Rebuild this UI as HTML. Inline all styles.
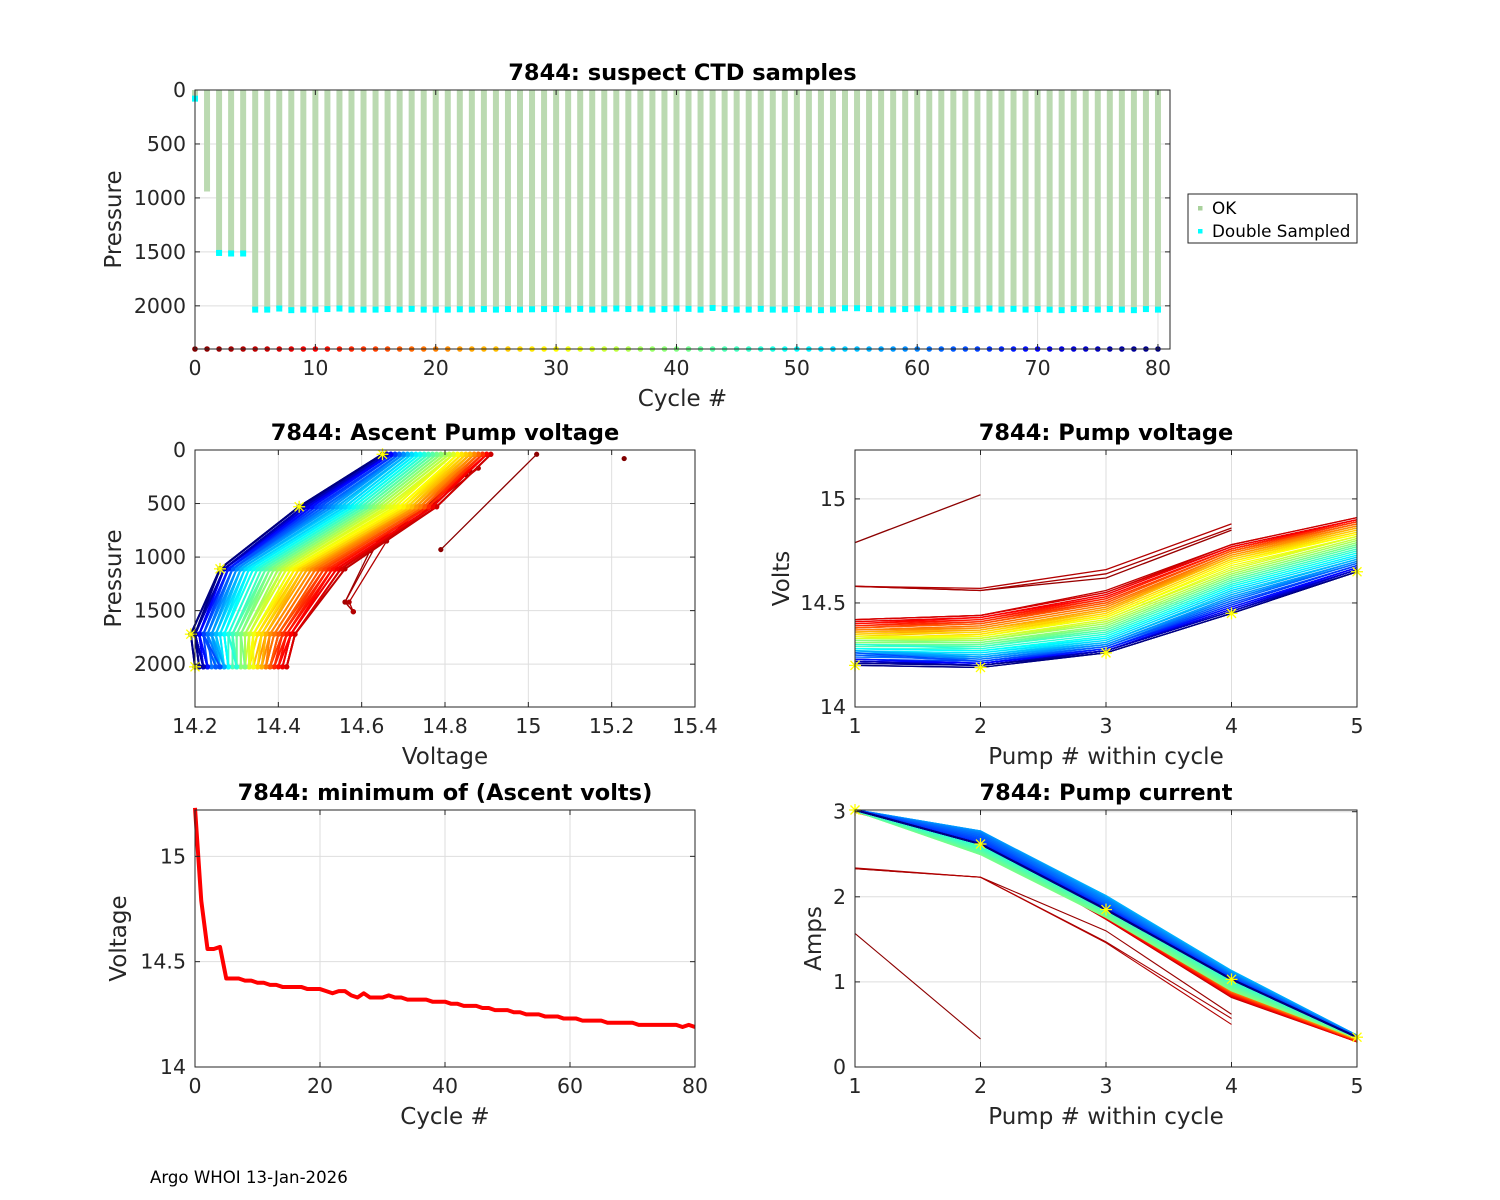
<!DOCTYPE html>
<html><head><meta charset="utf-8">
<style>
html,body{margin:0;padding:0;background:#fff;}
svg{display:block;font-family:"DejaVu Sans","Liberation Sans",sans-serif;}
</style></head>
<body>
<svg id="fig" width="1500" height="1200" viewBox="0 0 1500 1200" xmlns="http://www.w3.org/2000/svg">
<rect width="1500" height="1200" fill="#fff"/>
<text x="150" y="1183" font-size="16.6" fill="#000">Argo WHOI 13-Jan-2026</text>
</svg>
<script>
// ---------- DATA ----------
const barBottom = [90,940,1510,1510,1510,2025,2025,2020,2030,2025,2028,2022,2015,2030,2025,2028,2025,2020,2022,2028,2025,2020,2018,2028,2030,2025,2020,2025,2030,2025,2022,2025,2020,2025,2022,2018,2025,2020,2028,2022,2015,2018,2028,2015,2022,2025,2028,2020,2025,2028,2022,2025,2030,2028,2015,2015,2020,2025,2028,2022,2018,2025,2028,2020,2030,2025,2018,2028,2020,2025,2022,2028,2030,2020,2022,2028,2022,2025,2030,2020,2025];
const doubleP = [80,null,1510,1515,1515,2035,2035,2025,2040,2035,2035,2030,2025,2035,2035,2035,2030,2035,2028,2035,2035,2035,2032,2035,2030,2035,2030,2035,2032,2030,2030,2035,2028,2035,2032,2025,2030,2025,2035,2030,2025,2028,2035,2020,2030,2035,2035,2028,2035,2035,2030,2035,2040,2035,2022,2022,2030,2035,2035,2030,2025,2035,2035,2030,2038,2035,2025,2035,2028,2035,2030,2035,2040,2030,2030,2035,2030,2035,2040,2030,2035];
const earlyVolts = [[15.23],[14.79,15.02],[14.58,14.56,14.62,14.85],[14.58,14.56,14.64,14.86],[14.58,14.57,14.66,14.88]];
const earlyPres  = [[80],[930,40],[1510,1420,940,230],[1510,1420,850,200],[1510,1420,850,170]];
const earlyAmps  = [[],[1.57,0.33],[2.33,2.23,1.60,0.62],[2.33,2.23,1.47,0.57],[2.34,2.23,1.46,0.50]];
const V1 = [14.42,14.42,14.42,14.41,14.41,14.40,14.40,14.39,14.39,14.38,14.38,14.38,14.38,14.37,14.37,14.37,14.36,14.35,14.36,14.36,14.34,14.33,14.35,14.33,14.33,14.33,14.34,14.33,14.33,14.32,14.32,14.32,14.32,14.31,14.31,14.32,14.30,14.30,14.30,14.29,14.30,14.28,14.30,14.28,14.28,14.28,14.27,14.27,14.26,14.26,14.27,14.25,14.27,14.26,14.26,14.26,14.24,14.25,14.25,14.26,14.23,14.23,14.23,14.23,14.23,14.22,14.22,14.22,14.21,14.22,14.22,14.22,14.21,14.20,14.21,14.20];
const V2 = [14.44,14.44,14.44,14.43,14.43,14.43,14.42,14.42,14.41,14.41,14.40,14.40,14.40,14.39,14.39,14.38,14.38,14.37,14.37,14.37,14.36,14.35,14.36,14.35,14.34,14.34,14.34,14.33,14.33,14.33,14.32,14.32,14.32,14.31,14.31,14.31,14.30,14.30,14.29,14.29,14.29,14.28,14.28,14.27,14.27,14.27,14.26,14.26,14.25,14.25,14.25,14.24,14.24,14.24,14.23,14.23,14.23,14.22,14.22,14.22,14.22,14.21,14.21,14.21,14.21,14.21,14.20,14.20,14.20,14.20,14.20,14.20,14.20,14.19,14.20,14.19];
const V3 = [14.56,14.55,14.55,14.54,14.54,14.53,14.53,14.52,14.52,14.51,14.51,14.50,14.50,14.49,14.49,14.48,14.48,14.47,14.47,14.46,14.46,14.45,14.45,14.44,14.44,14.43,14.43,14.42,14.42,14.41,14.41,14.40,14.40,14.39,14.39,14.38,14.38,14.37,14.37,14.36,14.36,14.35,14.35,14.34,14.34,14.33,14.33,14.32,14.32,14.31,14.31,14.31,14.30,14.30,14.30,14.29,14.29,14.29,14.29,14.28,14.28,14.28,14.28,14.28,14.27,14.27,14.27,14.27,14.27,14.27,14.27,14.27,14.26,14.26,14.26,14.26];
const V4 = [14.78,14.78,14.77,14.77,14.77,14.76,14.76,14.76,14.76,14.75,14.75,14.75,14.75,14.74,14.74,14.74,14.73,14.73,14.72,14.72,14.72,14.71,14.71,14.70,14.70,14.69,14.68,14.67,14.66,14.65,14.65,14.64,14.64,14.63,14.63,14.62,14.62,14.61,14.61,14.60,14.60,14.59,14.59,14.58,14.58,14.57,14.57,14.56,14.56,14.55,14.54,14.54,14.53,14.53,14.52,14.52,14.51,14.51,14.50,14.50,14.49,14.49,14.48,14.48,14.48,14.47,14.47,14.47,14.46,14.46,14.46,14.46,14.45,14.45,14.45,14.45];
const V5 = [14.91,14.91,14.90,14.90,14.90,14.90,14.89,14.89,14.89,14.89,14.88,14.88,14.88,14.88,14.87,14.87,14.87,14.86,14.86,14.86,14.85,14.85,14.84,14.84,14.83,14.83,14.82,14.82,14.82,14.81,14.81,14.80,14.80,14.79,14.79,14.78,14.78,14.77,14.77,14.76,14.76,14.75,14.75,14.74,14.74,14.73,14.73,14.72,14.72,14.71,14.71,14.71,14.70,14.70,14.70,14.69,14.69,14.69,14.68,14.68,14.68,14.68,14.67,14.67,14.67,14.67,14.66,14.66,14.66,14.66,14.66,14.65,14.65,14.65,14.65,14.65];
const C1 = [3.00,3.00,3.00,3.00,3.00,3.00,3.00,3.00,3.00,3.00,3.00,3.00,3.00,3.00,3.00,3.00,3.00,3.00,3.00,3.00,3.01,3.01,3.01,3.01,3.01,3.01,3.01,3.01,3.01,3.01,3.01,3.01,3.01,3.01,3.01,3.01,3.01,3.01,3.01,3.01,3.02,3.02,3.02,3.02,3.02,3.02,3.02,3.02,3.02,3.02,3.02,3.02,3.02,3.02,3.02,3.02,3.02,3.02,3.02,3.02,3.02,3.02,3.02,3.02,3.02,3.02,3.02,3.02,3.02,3.02,3.02,3.02,3.02,3.02,3.02,3.02];
const C2 = [2.60,2.60,2.60,2.60,2.60,2.60,2.60,2.60,2.60,2.60,2.61,2.60,2.60,2.61,2.60,2.61,2.60,2.61,2.60,2.61,2.62,2.61,2.62,2.63,2.62,2.63,2.62,2.63,2.62,2.62,2.60,2.58,2.56,2.54,2.52,2.50,2.50,2.52,2.54,2.56,2.58,2.60,2.62,2.64,2.66,2.68,2.70,2.72,2.74,2.75,2.76,2.77,2.77,2.77,2.76,2.75,2.74,2.72,2.70,2.68,2.66,2.64,2.63,2.62,2.62,2.62,2.62,2.62,2.62,2.62,2.62,2.62,2.62,2.62,2.62,2.62];
const C3 = [1.74,1.74,1.75,1.75,1.75,1.76,1.76,1.76,1.77,1.77,1.77,1.78,1.78,1.78,1.79,1.79,1.79,1.80,1.80,1.80,1.81,1.81,1.81,1.82,1.82,1.82,1.83,1.83,1.83,1.84,1.84,1.82,1.80,1.78,1.77,1.76,1.77,1.79,1.81,1.83,1.85,1.87,1.89,1.91,1.93,1.95,1.97,1.98,1.99,2.00,2.01,2.01,2.00,1.99,1.98,1.96,1.94,1.92,1.90,1.89,1.88,1.87,1.86,1.86,1.85,1.85,1.85,1.85,1.85,1.85,1.85,1.85,1.85,1.85,1.85,1.85];
const C4 = [0.82,0.83,0.83,0.84,0.84,0.85,0.85,0.86,0.86,0.87,0.87,0.88,0.88,0.89,0.89,0.90,0.90,0.91,0.91,0.92,0.92,0.93,0.93,0.94,0.94,0.95,0.95,0.96,0.96,0.97,0.97,0.95,0.93,0.91,0.90,0.90,0.92,0.94,0.96,0.98,1.00,1.02,1.04,1.06,1.08,1.09,1.10,1.11,1.12,1.12,1.13,1.13,1.12,1.11,1.10,1.09,1.08,1.07,1.06,1.05,1.04,1.04,1.03,1.03,1.03,1.03,1.03,1.03,1.03,1.03,1.03,1.03,1.03,1.03,1.03,1.03];
const C5 = [0.30,0.30,0.30,0.30,0.30,0.31,0.31,0.31,0.31,0.31,0.32,0.32,0.32,0.32,0.32,0.33,0.33,0.33,0.33,0.33,0.33,0.33,0.34,0.34,0.34,0.34,0.34,0.34,0.34,0.34,0.34,0.34,0.34,0.34,0.34,0.34,0.35,0.35,0.35,0.35,0.36,0.36,0.36,0.36,0.37,0.37,0.37,0.37,0.37,0.37,0.37,0.37,0.37,0.37,0.36,0.36,0.36,0.36,0.35,0.35,0.35,0.35,0.35,0.35,0.35,0.35,0.35,0.35,0.35,0.35,0.35,0.35,0.35,0.35,0.35,0.35];
const pumpDepth = [2025,1720,1110,530,40];
const nCycles = 81;

// ---------- HELPERS ----------
const NS = "http://www.w3.org/2000/svg";
const svg = document.getElementById('fig');
function mk(tag, attrs, parent){ const e=document.createElementNS(NS,tag); for(const k in attrs) e.setAttribute(k,attrs[k]); (parent||svg).appendChild(e); return e; }
function jet(t){ const c=v=>Math.round(255*Math.max(0,Math.min(1,v))); return `rgb(${c(1.5-Math.abs(4*t-3))},${c(1.5-Math.abs(4*t-2))},${c(1.5-Math.abs(4*t-1))})`; }
function cycColor(c){ return jet(1 - c/80); }
function cycleVolts(c){ return c<5 ? earlyVolts[c] : [V1[c-5],V2[c-5],V3[c-5],V4[c-5],V5[c-5]]; }
function cycleAmps(c){ return c<5 ? earlyAmps[c] : [C1[c-5],C2[c-5],C3[c-5],C4[c-5],C5[c-5]]; }
function cyclePres(c){ return c<5 ? earlyPres[c] : pumpDepth; }

function axes(o){
  const sx=v=>o.x0+(v-o.xmin)/(o.xmax-o.xmin)*(o.x1-o.x0);
  const sy=o.rev ? (v=>o.y0+(v-o.ymin)/(o.ymax-o.ymin)*(o.y1-o.y0)) : (v=>o.y1-(v-o.ymin)/(o.ymax-o.ymin)*(o.y1-o.y0));
  const g=mk('g',{});  
  mk('rect',{x:o.x0,y:o.y0,width:o.x1-o.x0,height:o.y1-o.y0,fill:'#fff'},g);
  const grid=mk('g',{stroke:'#dedede','stroke-width':1},g);
   
  o.xticks.forEach(t=>mk('line',{x1:sx(t),x2:sx(t),y1:o.y0,y2:o.y1},grid));
  o.yticks.forEach(t=>mk('line',{x1:o.x0,x2:o.x1,y1:sy(t),y2:sy(t)},grid));
  const plot=mk('g',{},svg);
   
  return {sx,sy,plot,finish:()=>{
    const f=mk('g',{});  
    mk('rect',{x:o.x0,y:o.y0,width:o.x1-o.x0,height:o.y1-o.y0,fill:'none',stroke:'#262626','stroke-width':1},f);
    o.xticks.forEach((t,i)=>{const x=sx(t);
      mk('line',{x1:x,x2:x,y1:o.y1,y2:o.y1-5,stroke:'#262626'},f); mk('line',{x1:x,x2:x,y1:o.y0,y2:o.y0+5,stroke:'#262626'},f);
      const tx=mk('text',{x:x,y:o.y1+26,'text-anchor':'middle','font-size':20.5,fill:'#262626'},f); tx.textContent=o.xtl[i];
       });
    o.yticks.forEach((t,i)=>{const y=sy(t);
      mk('line',{x1:o.x0,x2:o.x0+5,y1:y,y2:y,stroke:'#262626'},f); mk('line',{x1:o.x1,x2:o.x1-5,y1:y,y2:y,stroke:'#262626'},f);
      const tx=mk('text',{x:o.x0-9,y:y+7,'text-anchor':'end','font-size':20.5,fill:'#262626'},f); tx.textContent=o.ytl[i];
       });
    const xl=mk('text',{x:(o.x0+o.x1)/2,y:o.y1+57,'text-anchor':'middle','font-size':23,fill:'#262626'},f); xl.textContent=o.xlab;
     
    const yl=mk('text',{x:0,y:0,'text-anchor':'middle','font-size':23,fill:'#262626',transform:`translate(${o.x0-o.ylabOff+8},${(o.y0+o.y1)/2}) rotate(-90)`},f); yl.textContent=o.ylab;
     
    const tt=mk('text',{x:(o.x0+o.x1)/2,y:o.y0-10,'text-anchor':'middle','font-size':22.5,'font-weight':'bold',fill:'#000'},f); tt.textContent=o.title;
     
  }};
}
function star(g,x,y){ const s=mk('g',{stroke:'#ffff00','stroke-width':1.3},g);
   
  mk('line',{x1:x-6,x2:x+6,y1:y,y2:y},s); mk('line',{x1:x,x2:x,y1:y-6,y2:y+6},s);
  mk('line',{x1:x-4.5,x2:x+4.5,y1:y-4.5,y2:y+4.5},s); mk('line',{x1:x-4.5,x2:x+4.5,y1:y+4.5,y2:y-4.5},s); }

// ---------- TOP: suspect CTD samples ----------
{
  const A=axes({name:'ctd-samples',x0:195,x1:1170,y0:90,y1:349,xmin:0,xmax:81,ymin:0,ymax:2400,rev:true,
    xticks:[0,10,20,30,40,50,60,70,80],xtl:['0','10','20','30','40','50','60','70','80'],
    yticks:[0,500,1000,1500,2000],ytl:['0','500','1000','1500','2000'],
    xlab:'Cycle #',ylab:'Pressure',title:'7844: suspect CTD samples',ylabOff:82});
  for(let c=0;c<nCycles;c++){
    const b=mk('line',{x1:A.sx(c),x2:A.sx(c),y1:A.sy(0),y2:A.sy(barBottom[c]),stroke:'#bbdab1','stroke-width':6},A.plot);
     
  }
  for(let c=0;c<nCycles;c++){
    if(doubleP[c]!==null){
      const d=mk('rect',{x:A.sx(c)-3,y:A.sy(doubleP[c])-3,width:6,height:6,fill:'#00ffff'},A.plot);
       
    }
    const p=mk('circle',{cx:A.sx(c),cy:A.sy(2400),r:2.8,fill:cycColor(c)},A.plot);
     
  }
  A.finish();
  const lg=mk('g',{});  
  mk('rect',{x:1188,y:194,width:169,height:49,fill:'#fff',stroke:'#262626'},lg);
  mk('rect',{x:1198,y:206,width:4.5,height:4.5,fill:'#a9d29c'},lg);
  mk('rect',{x:1198,y:229,width:4.5,height:4.5,fill:'#00ffff'},lg);
  const t1=mk('text',{x:1212,y:214,'font-size':16.8,fill:'#000'},lg); t1.textContent='OK';
   
  const t2=mk('text',{x:1212,y:237,'font-size':16.8,fill:'#000'},lg); t2.textContent='Double Sampled';
   
}

// ---------- Ascent pump voltage ----------
{
  const A=axes({name:'ascent-pump-voltage',x0:195,x1:695,y0:450,y1:707,xmin:14.2,xmax:15.4,ymin:0,ymax:2400,rev:true,
    xticks:[14.2,14.4,14.6,14.8,15,15.2,15.4],xtl:['14.2','14.4','14.6','14.8','15','15.2','15.4'],
    yticks:[0,500,1000,1500,2000],ytl:['0','500','1000','1500','2000'],
    xlab:'Voltage',ylab:'Pressure',title:'7844: Ascent Pump voltage',ylabOff:82});
  for(let c=0;c<nCycles;c++){
    const v=cycleVolts(c), p=cyclePres(c), col=cycColor(c);
    const pts=v.map((vv,i)=>A.sx(vv)+','+A.sy(p[i])).join(' ');
    if(v.length>1){ const l=mk('polyline',{points:pts,fill:'none',stroke:col,'stroke-width':c<5?1.3:2},A.plot);
        }
    v.forEach((vv,i)=>{ const d=mk('circle',{cx:A.sx(vv),cy:A.sy(p[i]),r:2.6,fill:col},A.plot);
        });
  }
  const v=cycleVolts(80), p=cyclePres(80); v.forEach((vv,i)=>star(A.plot,A.sx(vv),A.sy(p[i])));
  A.finish();
}

// ---------- Pump voltage ----------
{
  const A=axes({name:'pump-voltage',x0:855,x1:1357,y0:450,y1:707,xmin:1,xmax:5,ymin:14,ymax:15.235,rev:false,
    xticks:[1,2,3,4,5],xtl:['1','2','3','4','5'],yticks:[14,14.5,15],ytl:['14','14.5','15'],
    xlab:'Pump # within cycle',ylab:'Volts',title:'7844: Pump voltage',ylabOff:74});
  for(let c=1;c<nCycles;c++){
    const v=cycleVolts(c);
    const l=mk('polyline',{points:v.map((vv,i)=>A.sx(i+1)+','+A.sy(vv)).join(' '),fill:'none',stroke:cycColor(c),'stroke-width':1.3},A.plot);
     
  }
  cycleVolts(80).forEach((vv,i)=>star(A.plot,A.sx(i+1),A.sy(vv)));
  A.finish();
}

// ---------- Minimum of ascent volts ----------
{
  const A=axes({name:'min-ascent-volts',x0:195,x1:695,y0:810,y1:1067,xmin:0,xmax:80,ymin:14,ymax:15.22,rev:false,
    xticks:[0,20,40,60,80],xtl:['0','20','40','60','80'],yticks:[14,14.5,15],ytl:['14','14.5','15'],
    xlab:'Cycle #',ylab:'Voltage',title:'7844: minimum of (Ascent volts)',ylabOff:77});
  const pts=[]; for(let c=0;c<nCycles;c++){ pts.push(A.sx(c)+','+A.sy(Math.min(...cycleVolts(c)))); }
  const l=mk('polyline',{points:pts.join(' '),fill:'none',stroke:'#ff0000','stroke-width':4,'stroke-linejoin':'round'},A.plot);
   
  A.finish();
}

// ---------- Pump current ----------
{
  const A=axes({name:'pump-current',x0:855,x1:1357,y0:810,y1:1067,xmin:1,xmax:5,ymin:0,ymax:3.02,rev:false,
    xticks:[1,2,3,4,5],xtl:['1','2','3','4','5'],yticks:[0,1,2,3],ytl:['0','1','2','3'],
    xlab:'Pump # within cycle',ylab:'Amps',title:'7844: Pump current',ylabOff:42});
  for(let c=1;c<nCycles;c++){
    const a=cycleAmps(c); if(a.length<2) continue;
    const l=mk('polyline',{points:a.map((vv,i)=>A.sx(i+1)+','+A.sy(vv)).join(' '),fill:'none',stroke:cycColor(c),'stroke-width':c<5?1.1:1.8},A.plot);
     
  }
  cycleAmps(80).forEach((vv,i)=>star(A.plot,A.sx(i+1),A.sy(vv)));
  A.finish();
}
</script>
</body></html>
